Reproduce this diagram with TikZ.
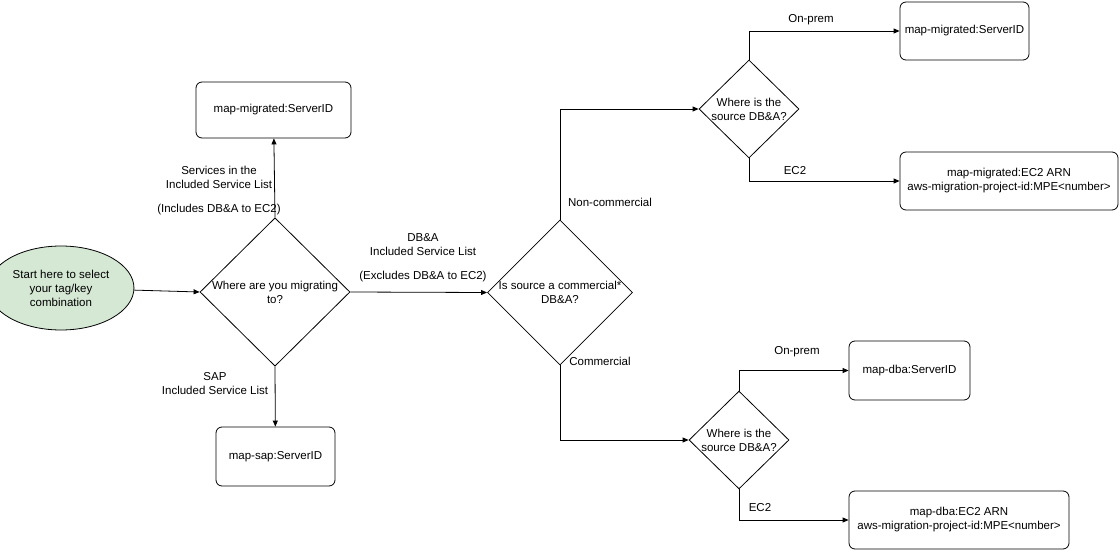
\documentclass[tikz,border=0pt]{standalone}
\usepackage{fontspec}
\setmainfont{Liberation Sans}
\usetikzlibrary{shapes.geometric,arrows.meta}
\begin{document}
\begin{tikzpicture}[x=1pt,y=-1pt,font=\fontsize{11.5}{14}\selectfont,
 box/.style={draw,rounded corners=6pt,align=center,line width=0.8pt},
 dia/.style={draw,diamond,inner sep=0pt,align=center,line width=0.8pt},
 arr/.style={-{Triangle[length=6pt,width=5pt]},line width=0.8pt},
 lbl/.style={align=center,inner sep=1pt}]
\useasboundingbox[fill=white] (0,0) rectangle (1120,551);
\node[draw,ellipse,fill=green!12!white,fill=green!10!gray!5!white,minimum width=116pt,minimum height=84pt,align=center,line width=0.8pt,fill={rgb,255:red,213;green,232;blue,212}] (st) at (61,288) {Start here to select\\your tag/key\\combination};
\node[dia,minimum width=150pt,minimum height=134pt] (d1) at (275,292) {Where are you migrating\\to?};
\node[box,minimum width=155pt,minimum height=56pt] (b1) at (273.5,110) {map-migrated:ServerID};
\node[box,minimum width=119pt,minimum height=59pt] (b2) at (275.5,456.5) {map-sap:ServerID};
\node[dia,minimum width=144pt,minimum height=125pt] (d2) at (560,292.5) {Is source a commercial*\\DB\&A?};
\node[dia,minimum width=100pt,minimum height=98pt] (d3) at (749,109) {Where is the\\source DB\&A?};
\node[dia,minimum width=100pt,minimum height=96pt] (d4) at (739,440) {Where is the\\source DB\&A?};
\node[box,minimum width=129pt,minimum height=58pt] (b3) at (964.5,31) {map-migrated:ServerID};
\node[box,minimum width=218pt,minimum height=58pt] (b4) at (1009,181) {map-migrated:EC2 ARN\\aws-migration-project-id:MPE<number>};
\node[box,minimum width=121pt,minimum height=59pt] (b5) at (909.5,370.5) {map-dba:ServerID};
\node[box,minimum width=220pt,minimum height=58pt] (b6) at (959,520) {map-dba:EC2 ARN\\aws-migration-project-id:MPE<number>};
\draw[arr] (st) -- (d1.west);
\draw[arr] (d1.north) -- (b1);
\draw[arr] (d1.south) -- (b2);
\draw[arr] (d1.east) -- (d2.west);
\draw[arr] (d2.north) |- (d3.west);
\draw[arr] (d2.south) |- (d4.west);
\draw[arr] (d3.north) |- (b3.west);
\draw[arr] (d3.south) |- (b4.west);
\draw[arr] (d4.north) |- (b5.west);
\draw[arr] (d4.south) |- (b6.west);
\node[lbl] (l1) at (219,191) {Services in the\\Included Service List\\[10pt](Includes DB\&A to EC2)};
\node[lbl] (l2) at (215,384) {SAP\\Included Service List};
\node[lbl] (l3) at (423,258) {DB\&A\\Included Service List\\[10pt](Excludes DB\&A to EC2)};
\node[lbl] (l4) at (610,202) {Non-commercial};
\node[lbl] (l5) at (600,361) {Commercial};
\node[lbl] (l6) at (811,20) {On-prem};
\node[lbl] (l7) at (795,171) {EC2};
\node[lbl] (l8) at (797,352) {On-prem};
\node[lbl] (l9) at (760,508) {EC2};
\end{tikzpicture}
\end{document}
